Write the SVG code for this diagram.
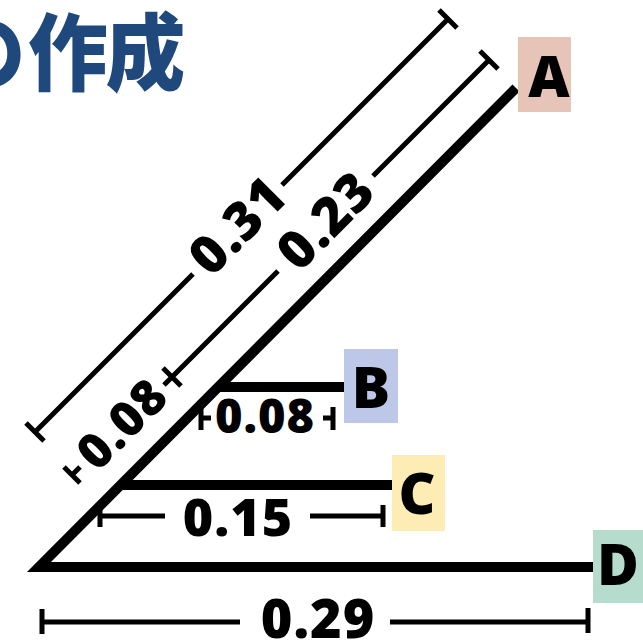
<svg xmlns="http://www.w3.org/2000/svg" width="643" height="641" viewBox="0 0 643 641">
<style>
.branch{fill:none;stroke:#000;stroke-width:10;stroke-linejoin:miter;stroke-miterlimit:10}
.dim{fill:none;stroke:#000;stroke-width:5}
.num{font-family:"Open Sans","Noto Sans",sans-serif;font-weight:800;fill:#000;text-anchor:middle}
.lab{font-family:"Open Sans","Noto Sans",sans-serif;font-weight:800;font-size:57px;fill:#000;text-anchor:middle}
.title{font-family:"Noto Sans CJK JP","Noto Sans CJK SC",sans-serif;font-weight:900;font-size:84px;fill:#1f497d}
</style>
<rect width="643" height="641" fill="#fff"/>
<g id="title" transform="scale(0.95 1)">
<text class="title" x="-57 29.5 111" y="84">の作成</text>
</g>
<g id="connectors">
<path class="branch" d="M516,88 L39,567 L593,567"/>
<path class="branch" d="M218,387 H344"/>
<path class="branch" d="M119,485 H392"/>
</g>
<g id="dim-031">
<path class="dim" d="M35,432 L193,274 M282,185 L448,19 M26,423 L44,441 M439,10 L457,28"/>
<text class="num" font-size="53" transform="translate(238,226) rotate(-45)" y="18" letter-spacing="1">0.31</text>
</g>
<g id="dim-023">
<path class="dim" d="M172,377 L278,271 M373,176 L489,60 M163,368 L181,386 M480,51 L498,69"/>
<text class="num" font-size="53" transform="translate(326,221) rotate(-45)" y="18" letter-spacing="1">0.23</text>
</g>
<g id="dim-008a">
<path class="dim" d="M72,475 L80,467 M164,385 L172,377 M64,467 L80,483"/>
<text class="num" font-size="49" transform="translate(122,424) rotate(-45)" y="17" letter-spacing="1">0.08</text>
</g>
<g id="dim-008b">
<path class="dim" d="M201,418 H211 M201,407 V430 M323,418 H333 M333,407 V430"/>
<text class="num" font-size="47" x="265" y="433" letter-spacing="1">0.08</text>
</g>
<g id="dim-015">
<path class="dim" d="M100,516 H165 M310,516 H383 M100,505 V527 M383,505 V527"/>
<text class="num" font-size="52" x="238" y="536" letter-spacing="1">0.15</text>
</g>
<g id="dim-029">
<path class="dim" d="M42,622 H240 M390,622 H588 M42,609 V634 M588,608 V633"/>
<text class="num" font-size="54" x="318" y="638" letter-spacing="1">0.29</text>
</g>
<g id="node-A">
<rect x="518" y="37" width="53" height="75" fill="#e6c4b8"/>
<text class="lab" x="549" y="97">A</text>
</g>
<g id="node-B">
<rect x="344" y="349" width="54" height="74" fill="#bdc8e9"/>
<text class="lab" x="371" y="408">B</text>
</g>
<g id="node-C">
<rect x="392" y="455" width="53" height="76" fill="#fdedb5"/>
<text class="lab" x="417" y="514">C</text>
</g>
<g id="node-D">
<rect x="593" y="530" width="50" height="73" fill="#b5dccc"/>
<text class="lab" x="618" y="585">D</text>
</g>
</svg>
